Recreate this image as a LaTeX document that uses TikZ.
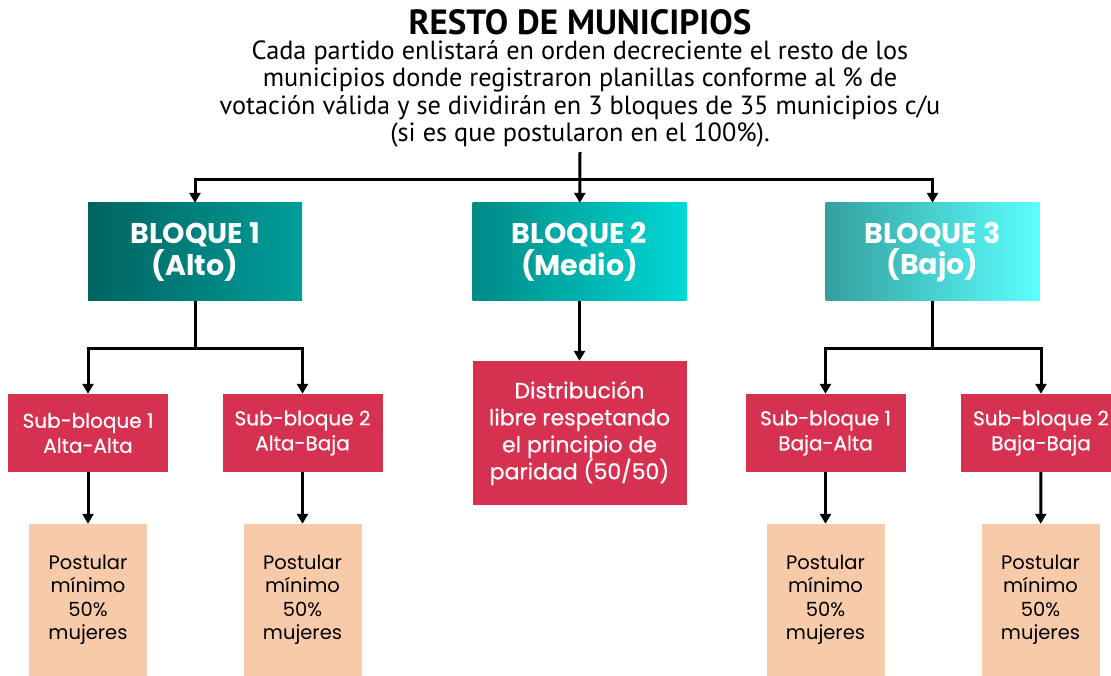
\documentclass[tikz,border=0pt]{standalone}
\usepackage{fontspec}
\setmainfont{PT Sans}
\newfontfamily\boxfont{Poppins}
\newfontfamily\boxmed[FakeBold=0.6]{Poppins}
\usetikzlibrary{arrows.meta}
\definecolor{redbox}{HTML}{D63150}
\definecolor{peach}{HTML}{F7CBAA}
\definecolor{tealA}{HTML}{00635F}
\definecolor{tealB}{HTML}{009E9B}
\definecolor{tealC}{HTML}{008985}
\definecolor{tealD}{HTML}{00D9D5}
\definecolor{tealE}{HTML}{33A09F}
\definecolor{tealF}{HTML}{5CFFFF}
\tikzset{
  bloque/.style={minimum width=214pt, minimum height=98pt, inner sep=0pt, text=white,
    font=\boxfont\bfseries\fontsize{28.5}{31.5}\selectfont, align=center},
  subbox/.style={fill=redbox, minimum width=160pt, minimum height=78pt, inner sep=0pt, text=white,
    font=\boxmed\fontsize{20}{25}\selectfont, align=center},
  distbox/.style={fill=redbox, minimum width=214pt, minimum height=144pt, inner sep=0pt, text=white,
    font=\boxmed\fontsize{22}{27}\selectfont, align=center},
  postbox/.style={fill=peach, minimum width=118pt, minimum height=152pt, inner sep=0pt, text=black,
    font=\boxfont\fontsize{19.5}{23.5}\selectfont, align=center},
  conn/.style={line width=3pt, black},
  arr/.style={conn, -{Triangle[length=10pt,width=11pt]}}
}
\begin{document}
\begin{tikzpicture}[x=1pt,y=-1pt]
\useasboundingbox (0,0) rectangle (1111,676);
\node[font=\bfseries\fontsize{35}{38}\selectfont, inner sep=0pt] (title) at (580,22) {RESTO DE MUNICIPIOS};
\node[font=\fontsize{26.3}{27.3}\selectfont, align=center, inner sep=0pt] (desc) at (580,94)
  {Cada partido enlistará en orden decreciente el resto de los\\
   municipios donde registraron planillas conforme al \% de\\
   votación válida y se dividirán en 3 bloques de 35 municipios c/u\\
   (si es que postularon en el 100\%).};
\node[bloque, left color=tealA, right color=tealB] (b1) at (195,252) {BLOQUE 1\\(Alto)};
\node[bloque, left color=tealC, right color=tealD] (b2) at (579.5,252) {BLOQUE 2\\(Medio)};
\node[bloque, left color=tealE, right color=tealF] (b3) at (932.5,252) {BLOQUE 3\\(Bajo)};
\node[subbox] (s1) at (88,433) {Sub-bloque 1\\Alta-Alta};
\node[subbox] (s2) at (302.5,433) {Sub-bloque 2\\Alta-Baja};
\node[subbox] (s3) at (825.5,433) {Sub-bloque 1\\Baja-Alta};
\node[subbox] (s4) at (1041,433) {Sub-bloque 2\\Baja-Baja};
\node[distbox] (d) at (579.5,433) {Distribución\\libre respetando\\el principio de\\paridad (50/50)};
\node[postbox] (p1) at (88,600) {Postular\\mínimo\\50\%\\mujeres};
\node[postbox] (p2) at (302.5,600) {Postular\\mínimo\\50\%\\mujeres};
\node[postbox] (p3) at (825.5,600) {Postular\\mínimo\\50\%\\mujeres};
\node[postbox] (p4) at (1040.5,600) {Postular\\mínimo\\50\%\\mujeres};
\coordinate (top) at (580,152);
\coordinate (j) at (580,180);
\coordinate (k1) at (195,348);
\coordinate (k3) at (932.5,348);
\draw[arr] (top) -- (b2);
\draw[arr] (j) -| (b1);
\draw[arr] (j) -| (b3);
\draw[conn] (b1) -- (k1);
\draw[arr] (k1) -| (s1);
\draw[arr] (k1) -| (s2);
\draw[arr] (b2) -- (d);
\draw[conn] (b3) -- (k3);
\draw[arr] (k3) -| (s3);
\draw[arr] (k3) -| (s4);
\draw[arr] (s1) -- (p1);
\draw[arr] (s2) -- (p2);
\draw[arr] (s3) -- (p3);
\draw[arr] (s4) -- (p4);
\end{tikzpicture}
\end{document}
